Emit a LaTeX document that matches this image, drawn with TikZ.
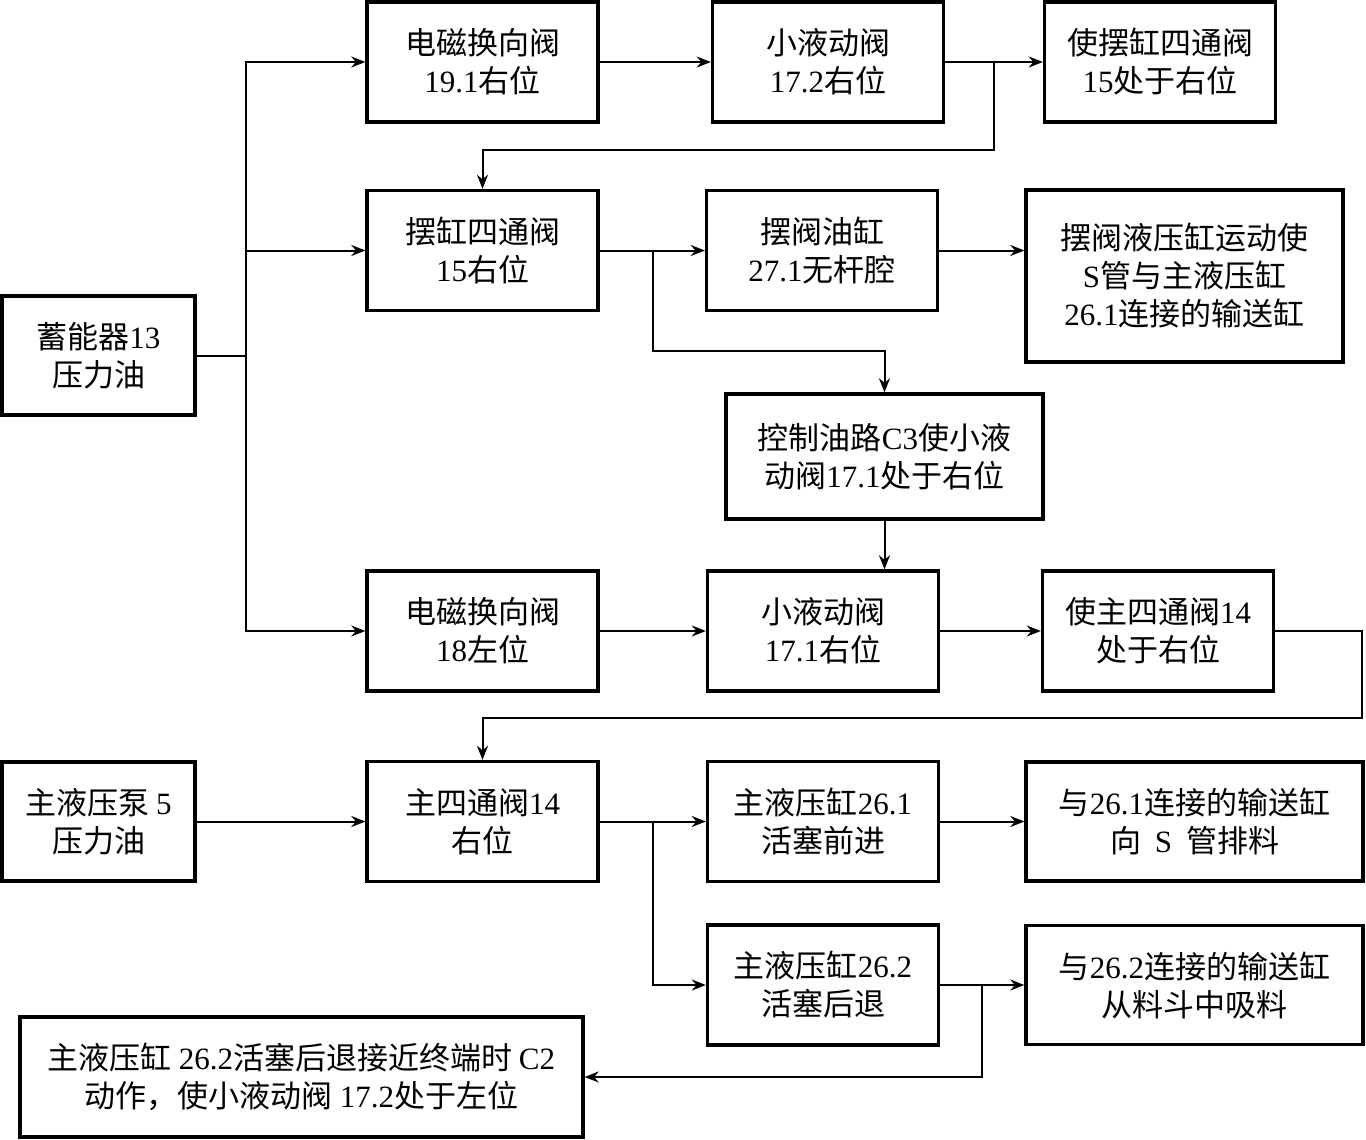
\documentclass[tikz,border=0pt]{standalone}
\usepackage{fontspec}
\setmainfont{Noto Sans CJK SC}
\newfontfamily\lat{Liberation Serif}
\usetikzlibrary{arrows.meta}
\tikzset{
  box/.style={draw, line width=1.7pt, align=center, inner sep=0pt,
    font=\fontsize{15.5pt}{19pt}\selectfont},
  small/.style={box, minimum width=115.5pt, minimum height=60pt},
  line/.style={line width=1pt},
  arr/.style={line, -{Stealth[length=7pt,width=5.5pt]}}
}
\begin{document}
\begin{tikzpicture}[x=0.5pt,y=-0.5pt]
\useasboundingbox (0,0) rectangle (1366,1140);
% left sources
\node[box, minimum width=96.5pt, minimum height=59.5pt] (acc) at (98.5,355.5) {蓄能器{\lat 13}\\压力油};
\node[box, minimum width=96.5pt, minimum height=59.5pt] (pump) at (98.5,821.5) {主液压泵 {\lat 5}\\压力油};
% first row
\node[small] (dh191) at (482.5,62) {电磁换向阀\\{\lat 19.1}右位};
\node[small] (xy172) at (828,62) {小液动阀\\{\lat 17.2}右位};
\node[small] (sb15) at (1160,62) {使摆缸四通阀\\{\lat 15}处于右位};
% second row
\node[small] (bg15) at (482.5,250.5) {摆缸四通阀\\{\lat 15}右位};
\node[small] (by271) at (822,250.5) {摆阀油缸\\{\lat 27.1}无杆腔};
\node[box, minimum width=158.5pt, minimum height=86pt] (byg) at (1184.5,276) {摆阀液压缸运动使\\{\lat S}管与主液压缸\\{\lat 26.1}连接的输送缸};
\node[box, minimum width=158.5pt, minimum height=62.5pt] (kz) at (884.5,456.5) {控制油路{\lat C3}使小液\\动阀{\lat 17.1}处于右位};
% third row
\node[small] (dh18) at (482.5,631) {电磁换向阀\\{\lat 18}左位};
\node[small] (xy171) at (823,631) {小液动阀\\{\lat 17.1}右位};
\node[small] (zs14) at (1158,631) {使主四通阀{\lat 14}\\处于右位};
% main circuit
\node[small] (zsv14) at (482.5,821.5) {主四通阀{\lat 14}\\右位};
\node[small] (zy261) at (823,821.5) {主液压缸{\lat 26.1}\\活塞前进};
\node[box, minimum width=168.5pt, minimum height=59.5pt] (ss261) at (1194.5,821.5) {与{\lat 26.1}连接的输送缸\\向\ \ {\lat S}\ \ 管排料};
\node[small] (zy262) at (823,985) {主液压缸{\lat 26.2}\\活塞后退};
\node[box, minimum width=168.5pt, minimum height=59.5pt] (ss262) at (1194.5,985) {与{\lat 26.2}连接的输送缸\\从料斗中吸料};
\node[box, minimum width=281.5pt, minimum height=60pt] (c2) at (301.5,1077) {主液压缸 {\lat 26.2}活塞后退接近终端时 {\lat C2}\\动作，使小液动阀 {\lat 17.2}处于左位};
% junctions
\coordinate (j1) at (246,355.5);
\coordinate (j2) at (994,62);
\coordinate (j3) at (653,250.5);
\coordinate (j4) at (653,821.5);
\coordinate (j5) at (982,985);
% connectors
\draw[line] (acc.east) -- (j1);
\draw[arr] (j1) |- (dh191.west);
\draw[arr] (j1 |- bg15.west) -- (bg15.west);
\draw[arr] (j1) |- (dh18.west);
\draw[arr] (dh191.east) -- (xy172.west);
\draw[arr] (xy172.east) -- (sb15.west);
\draw[arr] (j2) -- ++(0,88) -| (bg15.north);
\draw[arr] (bg15.east) -- (by271.west);
\draw[arr] (by271.east) -- (by271.east -| byg.west);
\draw[arr] (j3) -- ++(0,100) -| (kz.north);
\draw[arr] (kz.south) -- (kz.south |- xy171.north);
\draw[arr] (dh18.east) -- (xy171.west);
\draw[arr] (xy171.east) -- (zs14.west);
\draw[arr] (zs14.east) -- ++(87,0) -- ++(0,87) -| (zsv14.north);
\draw[arr] (pump.east) -- (zsv14.west);
\draw[arr] (zsv14.east) -- (zy261.west);
\draw[arr] (j4) |- (zy262.west);
\draw[arr] (zy261.east) -- (ss261.west);
\draw[arr] (zy262.east) -- (ss262.west);
\draw[arr] (j5) |- (c2.east);
\end{tikzpicture}
\end{document}
